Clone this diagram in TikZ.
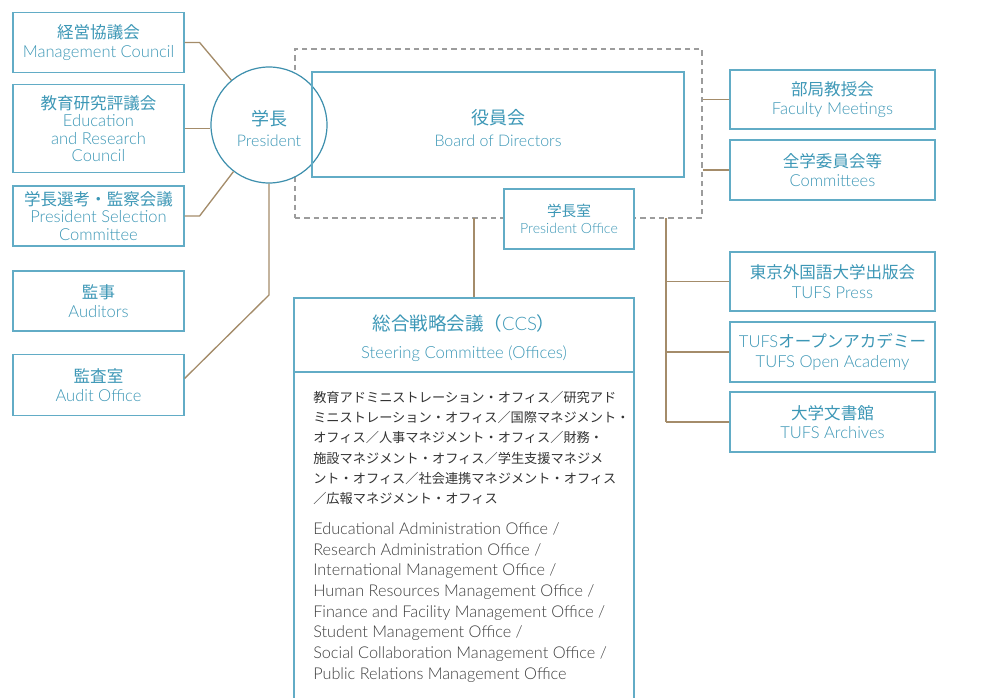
\documentclass[tikz,border=0pt]{standalone}
\usepackage{fontspec}
\setmainfont{Lato}[UprightFont=* Light]
\newfontfamily\jp{Noto Sans CJK JP}
\usetikzlibrary{calc}
\definecolor{tl}{HTML}{3C97B6}
\definecolor{bd}{HTML}{62ACC6}
\definecolor{cbd}{HTML}{3D8FAD}
\definecolor{br}{HTML}{A48C6A}
\definecolor{dg}{HTML}{9C9C9C}
\definecolor{bt}{HTML}{333333}
\definecolor{be}{HTML}{3E3E3E}
\begin{document}
\begin{tikzpicture}[x=0.75pt,y=-0.75pt,
  box/.style={draw=bd, line width=0.9pt, fill=white, text=tl, align=center, inner sep=0pt,
    font=\fontsize{12.4}{14.6}\selectfont},
  smallbox/.style={box, font=\fontsize{10.6}{13}\selectfont},
  lbl/.style={text=tl, align=center, inner sep=0pt},
  link/.style={draw=br, line width=1pt},
  dbox/.style={draw=dg, dashed, dash pattern=on 4pt off 3pt, line width=1.1pt, inner sep=0pt}]
\useasboundingbox (0,0) rectangle (1002,698);

% left column
\node[box, minimum width=128.25pt, minimum height=45pt] (mc) at (98.5,42.5) {{\jp 経営協議会}\\Management Council};
\node[box, minimum width=128.25pt, minimum height=66pt, font=\fontsize{12.4}{13}\selectfont] (er) at (98.5,128.5) {{\jp 教育研究評議会}\\Education\\and Research\\Council};
\node[box, minimum width=128.25pt, minimum height=45pt, font=\fontsize{12.4}{13}\selectfont] (ps) at (98.5,216) {{\jp 学長選考・監察会議}\\President Selection\\Committee};
\node[box, minimum width=128.25pt, minimum height=45pt] (au) at (98.5,301) {{\jp 監事}\\Auditors};
\node[box, minimum width=128.25pt, minimum height=45.75pt] (ao) at (98.5,385) {{\jp 監査室}\\Audit Office};

% dashed group
\node[dbox, minimum width=305.25pt, minimum height=126.75pt] (grp) at (498.5,133.5) {};
% president circle
\node[circle, draw=cbd, line width=0.9pt, fill=white, inner sep=0pt, minimum size=87pt] (pres) at (269,125) {};
\node[lbl, font=\fontsize{12}{16}\selectfont] (prest) at (269,128.5) {{\jp\fontsize{13.5}{16}\selectfont 学長}\\President};
% board
\node[draw=bd, line width=0.9pt, inner sep=0pt, minimum width=279pt, minimum height=78.75pt] (bod) at (498,124.5) {};
\node[lbl, font=\fontsize{12}{16.5}\selectfont] (bodt) at (498,128) {{\jp\fontsize{13.5}{16.5}\selectfont 役員会}\\Board of Directors};
% president office
\node[smallbox, minimum width=97.5pt, minimum height=45pt] (po) at (569,219) {{\jp\fontsize{11}{13}\selectfont 学長室}\\President Office};

% right column
\node[box, minimum width=153.75pt, minimum height=44.25pt] (fm) at (832.5,99.5) {{\jp 部局教授会}\\Faculty Meetings};
\node[box, minimum width=153.75pt, minimum height=45pt] (cm) at (832.5,170) {{\jp 全学委員会等}\\Committees};
\node[box, minimum width=153.75pt, minimum height=44.25pt] (tp) at (832.5,281.5) {{\jp 東京外国語大学出版会}\\TUFS Press};
\node[box, minimum width=153.75pt, minimum height=45pt] (oa) at (832.5,352) {TUFS{\jp オープンアカデミー}\\TUFS Open Academy};
\node[box, minimum width=153.75pt, minimum height=45pt] (ar) at (832.5,422) {{\jp 大学文書館}\\TUFS Archives};

% CCS
\node[draw=bd, line width=0.9pt, inner sep=0pt, minimum width=255pt, minimum height=309pt] (ccs) at (464,504) {};
\draw[draw=bd, line width=0.9pt] (ccs.west |- 0,372) coordinate (dl) -- (ccs.east |- 0,372) coordinate (dr);
\node[lbl, font=\fontsize{13.9}{21.5}\selectfont] (ccst) at (464,338) {{\jp 総合戦略会議（}CCS{\jp ）}\\{\fontsize{12.5}{14}\selectfont Steering Committee (Offices)}};
\node[anchor=north west, text=bt, align=left, inner sep=0pt, font=\jp\fontsize{9.9}{15.2}\selectfont] (ccsj) at (313,391)
 {教育アドミニストレーション・オフィス／研究アド\\
  ミニストレーション・オフィス／国際マネジメント・\\
  オフィス／人事マネジメント・オフィス／財務・\\
  施設マネジメント・オフィス／学生支援マネジメ\\
  ント・オフィス／社会連携マネジメント・オフィス\\
  ／広報マネジメント・オフィス};
\node[anchor=north west, text=be, align=left, inner sep=0pt, font=\fontsize{12.2}{15.5}\selectfont] (ccse) at (313,522.5)
 {Educational Administration Office /\\
  Research Administration Office /\\
  International Management Office /\\
  Human Resources Management Office /\\
  Finance and Facility Management Office /\\
  Student Management Office /\\
  Social Collaboration Management Office /\\
  Public Relations Management Office};

% connectors
\draw[link] (mc.east) -- ++(15,0) -- (pres);
\draw[link] (er.east) -- (er.east -| pres.west);
\draw[link] (ps.east) -- ++(15,0) -- (pres);
\coordinate (a1) at (269,295);
\draw[link] (pres.south) -- (a1) -- ($(ao.east)+(0,-6.5)$);
\draw[link] (fm.west) -- (fm.west -| grp.east);
\draw[link] (cm.west) -- (cm.west -| grp.east);
\coordinate (c0) at (474,218);
\draw[link] (c0) -- (c0 |- ccs.north);
\coordinate (v0) at (666,218);
\draw[link] (v0) -- (v0 |- ar.west);
\draw[link] (v0 |- tp.west) -- (tp.west);
\draw[link] (v0 |- oa.west) -- (oa.west);
\draw[link] (v0 |- ar.west) -- (ar.west);
\end{tikzpicture}
\end{document}
